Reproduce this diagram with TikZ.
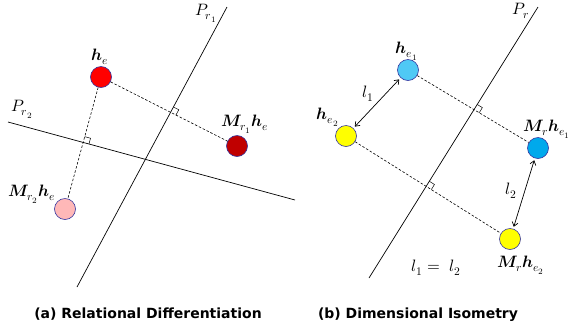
\documentclass[tikz,border=0pt]{standalone}
\usepackage{fontspec}
\usepackage{unicode-math}
\setmathfont{Latin Modern Math}
\newfontfamily\capfont{DejaVu Sans}
\usetikzlibrary{calc,arrows.meta}
\begin{document}
\begin{tikzpicture}[x=1pt,y=-1pt,
  dot/.style={circle,draw=black!30!blue!60!gray,line width=0.6pt,minimum size=21pt,inner sep=0pt},
  plane/.style={line width=0.7pt},
  proj/.style={dash pattern=on 2.5pt off 1.8pt,line width=0.6pt},
  lab/.style={inner sep=0pt,font=\fontsize{16.5}{18}\selectfont},
  captext/.style={inner sep=0pt,font=\capfont\bfseries\fontsize{14}{16}\selectfont},
  dist/.style={{Straight Barb[length=4pt,width=6pt]}-{Straight Barb[length=4pt,width=6pt]},line width=0.7pt},
  ra/.style={line width=0.5pt}]
\useasboundingbox (0,0) rectangle (568,333);
\definecolor{cdark}{HTML}{C00000}
\definecolor{cpink}{HTML}{FFB8B8}
\definecolor{clblue}{HTML}{4FC9F5}
\definecolor{cblue}{HTML}{00A9EC}
\definecolor{cyel}{HTML}{FFFF00}
% ---------- (a) ----------
\coordinate (p1t) at (227,7);
\coordinate (p1b) at (77,287);
\coordinate (p2l) at (8,122);
\coordinate (p2r) at (295,200);
\draw[plane] (p1t) -- (p1b);
\draw[plane] (p2l) -- (p2r);
\node[dot,fill=red] (he) at (101,77) {};
\node[dot,fill=cdark] (m1) at (237,146) {};
\node[dot,fill=cpink] (m2) at (65,209) {};
\coordinate (f1) at (intersection of he--m1 and p1t--p1b);
\coordinate (f2) at (intersection of he--m2 and p2l--p2r);
\draw[proj] (he) -- (m1);
\draw[proj] (he) -- (m2);
\draw[ra] ($(f1)!6pt!(p1t)$) -- ($(f1)!6pt!(p1t)+(f1)!6pt!(m1)-(f1)$) -- ($(f1)!6pt!(m1)$);
\draw[ra] ($(f2)!6pt!(p2r)$) -- ($(f2)!6pt!(p2r)+(f2)!6pt!(he)-(f2)$) -- ($(f2)!6pt!(he)$);
\node[lab] (lhe) at (100,57) {$\symbfit{h}_e$};
\node[lab] (lm1) at (245,124) {$\symbfit{M}_{r_1}\symbfit{h}_e$};
\node[lab] (lm2) at (32,194) {$\symbfit{M}_{r_2}\symbfit{h}_e$};
\node[lab] (lp1) at (206,13) {$P_{r_1}$};
\node[lab] (lp2) at (22,109) {$P_{r_2}$};
\node[captext] (capa) at (148,314) {(a) Relational Differentiation};
% ---------- (b) ----------
\coordinate (prt) at (538,7);
\coordinate (prb) at (369,278);
\draw[plane] (prt) -- (prb);
\node[dot,fill=clblue] (e1) at (408,70) {};
\node[dot,fill=cyel] (e2) at (346,136) {};
\node[dot,fill=cblue] (me1) at (538,148) {};
\node[dot,fill=cyel] (me2) at (510,239) {};
\coordinate (g1) at (intersection of e1--me1 and prt--prb);
\coordinate (g2) at (intersection of e2--me2 and prt--prb);
\draw[proj] (e1) -- (me1);
\draw[proj] (e2) -- (me2);
\draw[ra] ($(g1)!6pt!(prt)$) -- ($(g1)!6pt!(prt)+(g1)!6pt!(me1)-(g1)$) -- ($(g1)!6pt!(me1)$);
\draw[ra] ($(g2)!6pt!(prt)$) -- ($(g2)!6pt!(prt)+(g2)!6pt!(me2)-(g2)$) -- ($(g2)!6pt!(me2)$);
\draw[dist,shorten <=2pt,shorten >=2pt] (e2) -- (e1);
\draw[dist,shorten <=2pt,shorten >=2pt] (me1) -- (me2);
\node[lab] (le1) at (407,51) {$\symbfit{h}_{e_1}$};
\node[lab] (le2) at (328,117) {$\symbfit{h}_{e_2}$};
\node[lab] (lme1) at (547,129) {$\symbfit{M}_r\symbfit{h}_{e_1}$};
\node[lab] (lme2) at (521,265) {$\symbfit{M}_r\symbfit{h}_{e_2}$};
\node[lab] (lpr) at (521,11) {$P_r$};
\node[lab] (ll1) at (368,94) {$l_1$};
\node[lab] (ll2) at (511,191) {$l_2$};
\node[lab] (leq) at (436,268) {$l_1 =\ l_2$};
\node[captext] (capb) at (418,315) {(b) Dimensional Isometry};
\end{tikzpicture}
\end{document}
